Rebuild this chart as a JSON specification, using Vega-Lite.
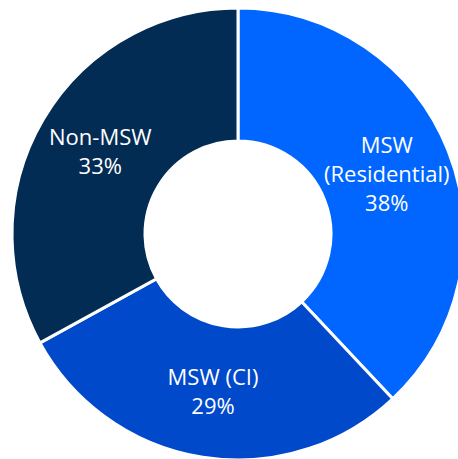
{
  "$schema": "https://vega.github.io/schema/vega-lite/v6.json",
  "width": 476,
  "height": 468,
  "padding": 0,
  "autosize": {"type": "none"},
  "background": "white",
  "view": {"stroke": null},
  "data": {"values": [
    {"category": "MSW (Residential)", "share": 38, "rank": 1, "label": "MSW\n(Residential)\n38%"},
    {"category": "MSW (CI)", "share": 29, "rank": 2, "label": "MSW (CI)\n29%"},
    {"category": "Non-MSW", "share": 33, "rank": 3, "label": "Non-MSW\n33%"}
  ]},
  "encoding": {
    "theta": {"field": "share", "type": "quantitative", "stack": true},
    "order": {"field": "rank", "type": "quantitative"}
  },
  "layer": [
    {
      "mark": {"type": "arc", "radius": 226, "radius2": 93, "stroke": "white", "strokeWidth": 3},
      "encoding": {
        "color": {
          "field": "category", "type": "nominal",
          "scale": {"domain": ["MSW (Residential)", "MSW (CI)", "Non-MSW"], "range": ["#0066FF", "#0049CB", "#032C55"]},
          "legend": null
        }
      }
    },
    {
      "mark": {"type": "text", "radius": 160, "dy": -29, "fill": "white", "font": "Open Sans", "fontSize": 22, "lineBreak": "\n", "lineHeight": 29, "align": "center", "baseline": "middle"},
      "encoding": {
        "detail": {"field": "category", "type": "nominal"},
        "text": {"condition": {"test": "datum.rank == 1", "field": "label"}, "value": ""}
      }
    },
    {
      "mark": {"type": "text", "radius": 160, "dy": -14.5, "fill": "white", "font": "Open Sans", "fontSize": 22, "lineBreak": "\n", "lineHeight": 29, "align": "center", "baseline": "middle"},
      "encoding": {
        "detail": {"field": "category", "type": "nominal"},
        "text": {"condition": {"test": "datum.rank != 1", "field": "label"}, "value": ""}
      }
    }
  ]
}
